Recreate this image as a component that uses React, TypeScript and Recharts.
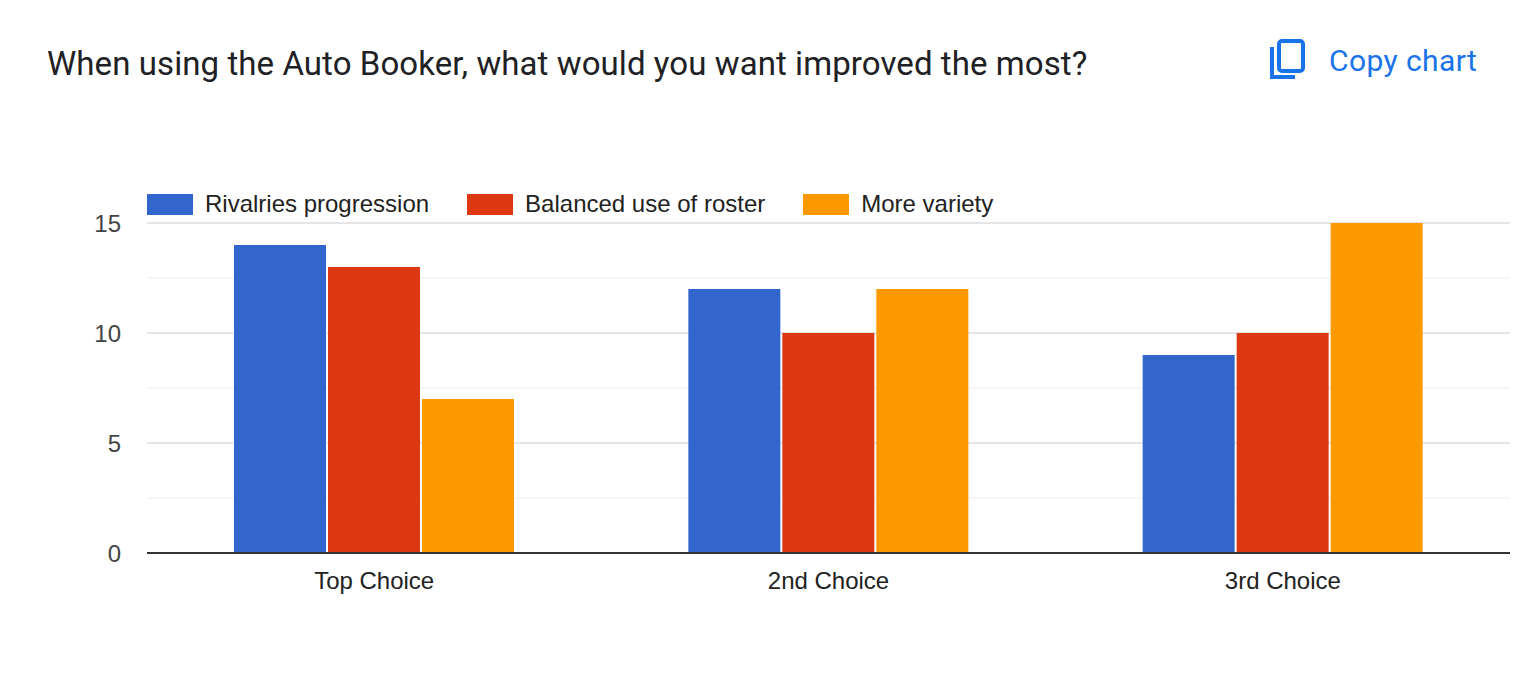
import React from 'react';
import {
  BarChart,
  Bar,
  XAxis,
  YAxis,
  CartesianGrid,
} from 'recharts';

const categories = ['Top Choice', '2nd Choice', '3rd Choice'];
const rivalries = [14, 12, 9];
const balanced = [13, 10, 10];
const variety = [7, 12, 15];
const yTicks = [0, 5, 10, 15];
const minorTicks = [2.5, 7.5, 12.5];

const SERIES = [
  { key: 'rivalries', name: 'Rivalries progression', color: '#3366cc' },
  { key: 'balanced', name: 'Balanced use of roster', color: '#dc3912' },
  { key: 'variety', name: 'More variety', color: '#ff9900' },
];

const data = categories.map((c, i) => ({
  name: c,
  rivalries: rivalries[i],
  balanced: balanced[i],
  variety: variety[i],
}));

const FONT = '"Liberation Sans", Arial, sans-serif';

// legend drawn as plain html so it does not push the plot down
const LegendRow = () => (
  <div
    style={{
      position: 'absolute',
      left: 147,
      top: 190,
      display: 'flex',
      alignItems: 'center',
      fontFamily: FONT,
      fontSize: 24,
      lineHeight: '28px',
      color: '#222',
      whiteSpace: 'nowrap',
    }}
  >
    {SERIES.map((s) => (
      <div key={s.key} style={{ display: 'flex', alignItems: 'center', marginRight: 38 }}>
        <div style={{ width: 46, height: 21, background: s.color, marginRight: 12 }} />
        <span>{s.name}</span>
      </div>
    ))}
  </div>
);

const CopyIcon = () => (
  <svg width="36" height="42" viewBox="0 0 36 42">
    <path d="M3 8 V38 H26" fill="none" stroke="#1a73e8" strokeWidth="4" />
    <rect x="10" y="2" width="24" height="30" rx="3" fill="none" stroke="#1a73e8" strokeWidth="4" />
  </svg>
);

export default function App() {
  return (
    <div style={{ position: 'absolute', left: 0, top: 0, width: 1532, height: 700, background: '#fff', overflow: 'hidden' }}>
      <div
        style={{
          position: 'absolute',
          left: 47,
          top: 44,
          fontFamily: 'Roboto, "Noto Sans", sans-serif',
          fontSize: 33,
          lineHeight: '40px',
          letterSpacing: 0.08,
          color: '#202124',
          whiteSpace: 'nowrap',
        }}
      >
        When using the Auto Booker, what would you want improved the most?
      </div>
      <div style={{ position: 'absolute', left: 1269, top: 39, display: 'flex', alignItems: 'center' }}>
        <CopyIcon />
        <span
          style={{
            marginLeft: 24,
            fontFamily: 'Roboto, "Open Sans", sans-serif',
            fontSize: 30,
            color: '#1a73e8',
            letterSpacing: 0.4,
          }}
        >
          Copy chart
        </span>
      </div>
      <LegendRow />
      <div style={{ position: 'absolute', left: 0, top: 0 }}>
        <BarChart
          width={1532}
          height={700}
          data={data}
          margin={{ top: 223, right: 22, bottom: 117, left: 47 }}
          barSize={92}
          barGap={2}
        >
          {/* minor lines first, then the major ones on top */}
          <CartesianGrid vertical={false} stroke="#ebebeb" horizontalValues={minorTicks} />
          <CartesianGrid vertical={false} stroke="#cccccc" horizontalValues={yTicks} />
          <XAxis
            dataKey="name"
            axisLine={{ stroke: '#333333', strokeWidth: 2 }}
            tickLine={false}
            tickSize={0}
            tickMargin={19}
            tick={{ fill: '#222222', fontSize: 24, fontFamily: FONT }}
          />
          <YAxis
            width={100}
            domain={[0, 15]}
            ticks={yTicks}
            axisLine={false}
            tickLine={false}
            tickSize={0}
            tickMargin={26}
            tick={{ fill: '#444444', fontSize: 24, fontFamily: FONT }}
          />
          {SERIES.map((s) => (
            <Bar key={s.key} dataKey={s.key} name={s.name} fill={s.color} isAnimationActive={false} />
          ))}
        </BarChart>
      </div>
    </div>
  );
}
